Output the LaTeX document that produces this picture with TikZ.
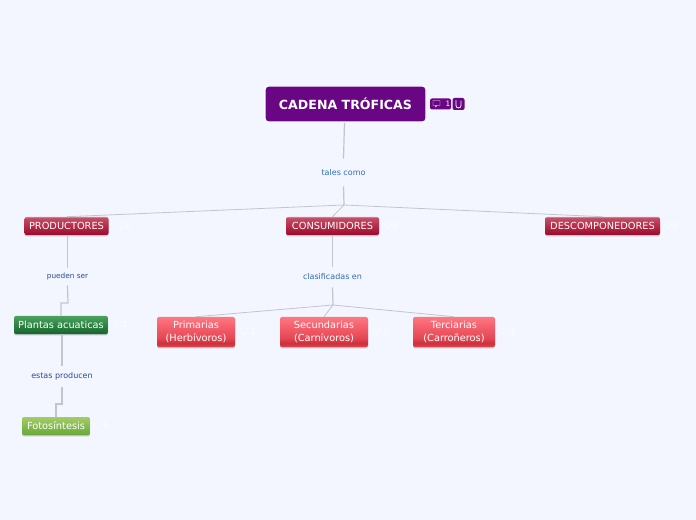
\documentclass[tikz,border=0pt]{standalone}
\usepackage{fontspec}
\setmainfont{DejaVu Sans}
\definecolor{bgc}{HTML}{F3F6FF}
\definecolor{rootc}{HTML}{6A0584}
\definecolor{linec}{HTML}{C2C5CB}
\definecolor{shadowc}{HTML}{C4C8D0}
\definecolor{bluetxt}{HTML}{2F6DB5}
\definecolor{navytxt}{HTML}{2A4C96}
\pgfdeclareverticalshading{redglossy}{100bp}{
  rgb(0bp)=(0.60,0.04,0.17);rgb(25bp)=(0.60,0.04,0.17);rgb(33bp)=(0.64,0.08,0.21);
  rgb(55bp)=(0.73,0.20,0.31);rgb(72bp)=(0.76,0.30,0.39);rgb(75bp)=(0.84,0.48,0.54);rgb(100bp)=(0.84,0.48,0.54)}
\pgfdeclareverticalshading{pinkglossy}{100bp}{
  rgb(0bp)=(0.78,0.18,0.22);rgb(25bp)=(0.86,0.28,0.32);rgb(31bp)=(0.80,0.19,0.23);rgb(40bp)=(0.90,0.28,0.33);
  rgb(60bp)=(0.96,0.38,0.43);rgb(75bp)=(0.99,0.47,0.51);rgb(100bp)=(0.99,0.47,0.51)}
\pgfdeclareverticalshading{greenglossy}{100bp}{
  rgb(0bp)=(0.10,0.39,0.18);rgb(25bp)=(0.10,0.39,0.18);rgb(45bp)=(0.15,0.50,0.24);
  rgb(75bp)=(0.30,0.63,0.37);rgb(100bp)=(0.30,0.63,0.37)}
\pgfdeclareverticalshading{limeglossy}{100bp}{
  rgb(0bp)=(0.42,0.65,0.22);rgb(25bp)=(0.42,0.65,0.22);rgb(45bp)=(0.50,0.72,0.29);
  rgb(75bp)=(0.64,0.80,0.41);rgb(100bp)=(0.64,0.80,0.41)}
\tikzset{
  x=0.75pt,y=-0.75pt,
  boxbase/.style={rectangle,rounded corners=1.5pt,inner sep=0pt,text=white,align=center,font=\fontsize{7.35}{9.4}\selectfont,
    preaction={fill=shadowc,transform canvas={yshift=-1pt}}},
  dims/.style 2 args={minimum width=#1*0.75pt,minimum height=#2*0.75pt},
  redbox/.style={boxbase,shading=redglossy},
  pinkbox/.style={boxbase,shading=pinkglossy},
  greenbox/.style={boxbase,shading=greenglossy},
  limebox/.style={boxbase,shading=limeglossy},
  rootbox/.style={rectangle,rounded corners=2.5pt,fill=rootc,draw=white,line width=1pt,text=white,
    font=\fontsize{9.45}{12}\bfseries\selectfont,inner sep=0pt},
  linklabel/.style={inner sep=0pt,font=\fontsize{6}{7}\selectfont},
  smalllabel/.style={inner sep=0pt,font=\fontsize{5.5}{7}\selectfont},
  stem/.style={draw=linec,line width=0.9pt},
  branch/.style={draw=linec,line width=0.6pt},
  badge/.style={fill=rootc,rounded corners=1.5pt,inner sep=0pt,text=white,font=\fontsize{6}{7}\selectfont},
  countlabel/.style={inner sep=0pt,text=white,font=\fontsize{6}{7}\selectfont},
  bubble/.style={draw=white,line width=0.3pt},
}
\newcommand{\cbubble}[2]{%
  \draw[bubble] (#1-3.5,#2-3) rectangle (#1+3.5,#2+2) (#1-1,#2+2) -- (#1-1,#2+3.5) -- (#1+0.5,#2+2);}
\begin{document}
\begin{tikzpicture}
\fill[bgc] (0,0) rectangle (696,520);
\useasboundingbox (0,0) rectangle (696,520);

\node[rootbox,dims={161}{36}] (root) at (345.5,104) {CADENA TRÓFICAS};

\node[linklabel,text=bluetxt,minimum width=50*0.75pt,minimum height=27*0.75pt] (tales) at (343.5,172.5) {tales como};
\coordinate (j1) at (344,205);
\node[redbox,dims={84}{18}] (prod) at (66.5,226) {PRODUCTORES};
\node[redbox,dims={93}{18}] (cons) at (332.5,226) {CONSUMIDORES};
\node[redbox,dims={115}{18}] (desc) at (602.5,226) {DESCOMPONEDORES};

\node[smalllabel,text=navytxt,minimum width=44*0.75pt,minimum height=17*0.75pt] (pueden) at (67.5,276.5) {pueden ser};
\node[linklabel,text=navytxt,minimum width=64*0.75pt,minimum height=21*0.75pt] (estas) at (62,376.5) {estas producen};
\node[linklabel,text=bluetxt,minimum width=62*0.75pt,minimum height=20*0.75pt] (clas) at (332.5,277) {clasificadas en};
\coordinate (j2) at (333,305);

\node[greenbox,dims={94}{18}] (plantas) at (61,325) {Plantas acuaticas};
\node[limebox,dims={68}{18}] (foto) at (56,426) {Fotosíntesis};
\node[pinkbox,dims={78}{30}] (prim) at (196,332) {Primarias\\(Herbívoros)};
\node[pinkbox,dims={88}{30}] (secu) at (324,332) {Secundarias\\(Carnívoros)};
\node[pinkbox,dims={82}{30}] (terc) at (454,332) {Terciarias\\(Carroñeros)};

% connectors
\draw[stem] (root.south -| tales.north) ++(1,0) -- (tales.north);
\draw[stem] (tales.south) -- (j1);
\draw[branch] (j1) -- (prod.north);
\draw[branch] (j1) -- (cons.north);
\draw[branch] (j1) -- (desc.north);
\draw[stem] (cons.south) -- (clas.north);
\draw[stem] (clas.south) -- (j2);
\draw[branch] (j2) -- (prim.north);
\draw[branch] (j2) -- (secu.north);
\draw[branch] (j2) -- (terc.north);
\draw[stem] (prod.south -| pueden.north) -- (pueden.north);
\draw[stem] (pueden.south) -- (68,303) -- (plantas.north |- 0,303) -- (plantas.north);
\draw[stem] (plantas.south -| estas.north) -- (estas.north);
\draw[stem] (estas.south) -- (62,404) -- (foto.north |- 0,404) -- (foto.north);

% root badges
\node[badge,minimum width=21*0.75pt,minimum height=11*0.75pt] (badgea) at (440.5,104) {\hspace*{11pt}\fontsize{5.5}{6}\selectfont 1};
\cbubble{436.5}{103.5}
\node[badge,minimum width=12*0.75pt,minimum height=12*0.75pt] (badgeb) at (458.5,104) {};
\draw[white,line width=0.55pt,line cap=round] (456,100.5) -- (456,105.5) arc[start angle=180,end angle=0,radius=2.5] -- (461,101);

% faint comment counters
\cbubble{121}{225}\node[countlabel] (c1) at (128,226) {1};
\cbubble{388}{225}\node[countlabel] (c2) at (395,226) {1};
\cbubble{668}{225}\node[countlabel] (c3) at (675,226) {1};
\cbubble{118}{324}\node[countlabel] (c4) at (125,325) {1};
\cbubble{98}{425}\node[countlabel] (c5) at (106,426) {1};
\cbubble{244}{331}\node[countlabel] (c6) at (253,332) {1};
\cbubble{377}{331}\node[countlabel] (c7) at (386,332) {1};
\cbubble{504}{331}\node[countlabel] (c8) at (513,332) {1};
\end{tikzpicture}
\end{document}
